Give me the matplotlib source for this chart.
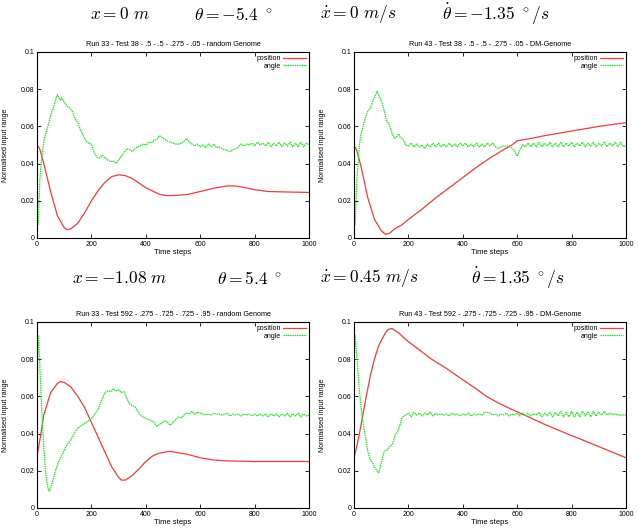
import matplotlib
matplotlib.use("Agg")
import matplotlib.pyplot as plt
from matplotlib.ticker import FixedLocator, FixedFormatter

plt.rcParams["mathtext.fontset"] = "cm"
plt.rcParams["font.family"] = ["Liberation Sans", "DejaVu Sans"]

RED = "#f03c3c"
GREEN = "#22e622"

# ---- Run 33 - Test 38 (random Genome) ----
pos1_x = [0, 10, 25, 50, 75, 100, 110, 125, 150, 175,
          200, 225, 250, 275, 300, 325, 350, 400, 450, 475,
          500, 550, 600, 650, 700, 725, 750, 800, 850, 900,
          1000]
pos1_y = [0.050, 0.048, 0.040, 0.025, 0.012, 0.0055, 0.0045, 0.005, 0.008, 0.0135,
          0.020, 0.0255, 0.030, 0.033, 0.034, 0.0335, 0.032, 0.027, 0.0235, 0.0228,
          0.0228, 0.0233, 0.025, 0.0268, 0.028, 0.028, 0.0275, 0.026, 0.025, 0.0248,
          0.0245]
ang1_x = [0, 3, 6, 10, 15, 20, 25, 30, 40, 50,
          60, 70, 75, 80, 85, 90, 100, 110, 120, 130,
          140, 150, 160, 170, 180, 190, 200, 210, 220, 230,
          240, 250, 260, 270, 280, 290, 300, 310, 320, 330,
          340, 350, 360, 370, 380, 390, 400, 410, 420, 430,
          440, 450, 460, 470, 480, 490, 500, 510, 520, 530,
          540, 550, 560, 570, 580, 590, 600, 610, 620, 630,
          640, 650, 660, 670, 680, 690, 700, 710, 720, 730,
          740, 750, 760, 770, 780, 790, 800, 810, 820, 830,
          840, 850, 860, 870, 880, 890, 900, 910, 920, 930,
          940, 950, 960, 970, 980, 990, 1000]
ang1_y = [0.016, 0.007, 0.012, 0.030, 0.040, 0.046, 0.052, 0.055, 0.060, 0.066,
          0.070, 0.075, 0.077, 0.0755, 0.074, 0.0755, 0.073, 0.071, 0.070, 0.068,
          0.064, 0.062, 0.058, 0.055, 0.052, 0.051, 0.0505, 0.046, 0.0435, 0.043,
          0.0445, 0.043, 0.042, 0.041, 0.0415, 0.040, 0.042, 0.044, 0.046, 0.048,
          0.0475, 0.0465, 0.048, 0.049, 0.0495, 0.0505, 0.050, 0.0515, 0.051, 0.0525,
          0.053, 0.055, 0.054, 0.053, 0.052, 0.0515, 0.051, 0.0505, 0.0505, 0.051,
          0.052, 0.0535, 0.0515, 0.0505, 0.0495, 0.0505, 0.049, 0.050, 0.0485, 0.0505,
          0.049, 0.0505, 0.0485, 0.049, 0.048, 0.0475, 0.047, 0.0465, 0.0475, 0.048,
          0.049, 0.0505, 0.0495, 0.0505, 0.050, 0.051, 0.0495, 0.0515, 0.050, 0.051,
          0.0495, 0.0515, 0.049, 0.051, 0.0495, 0.0515, 0.049, 0.051, 0.0495, 0.0515,
          0.049, 0.051, 0.049, 0.0515, 0.049, 0.051, 0.050]

# ---- Run 43 - Test 38 (DM-Genome) ----
pos2_x = [0, 10, 25, 50, 75, 100, 115, 130, 150, 175,
          200, 250, 300, 350, 400, 450, 500, 550, 580, 600,
          650, 700, 800, 900, 1000]
pos2_y = [0.050, 0.047, 0.039, 0.022, 0.010, 0.004, 0.002, 0.0025, 0.005, 0.007,
          0.010, 0.0155, 0.0215, 0.027, 0.0325, 0.038, 0.043, 0.0475, 0.050, 0.0523,
          0.0535, 0.055, 0.0575, 0.060, 0.062]
ang2_x = [0, 3, 6, 10, 15, 20, 25, 30, 40, 50,
          60, 70, 80, 85, 90, 100, 110, 120, 130, 140,
          150, 160, 165, 170, 180, 190, 200, 210, 220, 230,
          240, 250, 260, 270, 280, 290, 300, 310, 320, 330,
          340, 350, 360, 370, 380, 390, 400, 410, 420, 430,
          440, 450, 460, 470, 480, 490, 500, 510, 520, 530,
          540, 550, 560, 570, 580, 590, 600, 610, 620, 630,
          640, 650, 660, 670, 680, 690, 700, 710, 720, 730,
          740, 750, 760, 770, 780, 790, 800, 810, 820, 830,
          840, 850, 860, 870, 880, 890, 900, 910, 920, 930,
          940, 950, 960, 970, 980, 990, 1000]
ang2_y = [0.028, 0.007, 0.015, 0.030, 0.040, 0.050, 0.055, 0.058, 0.064, 0.068,
          0.070, 0.074, 0.077, 0.079, 0.077, 0.074, 0.069, 0.063, 0.061, 0.056,
          0.0535, 0.055, 0.056, 0.054, 0.053, 0.050, 0.0495, 0.051, 0.049, 0.0505,
          0.049, 0.050, 0.048, 0.0505, 0.049, 0.051, 0.049, 0.051, 0.049, 0.0505,
          0.049, 0.051, 0.049, 0.0505, 0.049, 0.051, 0.0495, 0.051, 0.049, 0.0505,
          0.049, 0.051, 0.049, 0.0505, 0.049, 0.051, 0.0495, 0.051, 0.049, 0.048,
          0.049, 0.0495, 0.0495, 0.049, 0.0485, 0.047, 0.044, 0.0475, 0.050, 0.049,
          0.051, 0.049, 0.051, 0.049, 0.0515, 0.049, 0.051, 0.0495, 0.0515, 0.049,
          0.051, 0.049, 0.0515, 0.049, 0.051, 0.0495, 0.0515, 0.049, 0.051, 0.0495,
          0.0515, 0.049, 0.051, 0.0495, 0.0515, 0.049, 0.051, 0.0495, 0.0515, 0.049,
          0.051, 0.0495, 0.0515, 0.049, 0.0515, 0.049, 0.050]

# ---- Run 33 - Test 592 (random Genome) ----
pos3_x = [0, 10, 25, 50, 75, 85, 100, 125, 150, 175,
          200, 225, 250, 275, 300, 310, 325, 350, 375, 400,
          425, 450, 490, 525, 550, 600, 650, 700, 800, 1000]
pos3_y = [0.028, 0.036, 0.050, 0.062, 0.067, 0.068, 0.0675, 0.065, 0.060, 0.054,
          0.046, 0.038, 0.030, 0.022, 0.0165, 0.015, 0.015, 0.0175, 0.021, 0.025,
          0.028, 0.0295, 0.0305, 0.0295, 0.029, 0.027, 0.0258, 0.0253, 0.025, 0.025]
ang3_x = [0, 3, 6, 10, 15, 20, 25, 30, 35, 40,
          45, 50, 55, 60, 70, 80, 90, 100, 110, 120,
          130, 140, 150, 160, 170, 180, 190, 200, 210, 220,
          230, 240, 250, 260, 270, 280, 290, 300, 310, 320,
          330, 340, 350, 360, 370, 380, 390, 400, 410, 420,
          430, 440, 450, 460, 470, 480, 490, 500, 510, 520,
          530, 540, 550, 560, 570, 580, 590, 600, 610, 620,
          630, 640, 650, 660, 670, 680, 690, 700, 710, 720,
          730, 740, 750, 760, 770, 780, 790, 800, 810, 820,
          830, 840, 850, 860, 870, 880, 890, 900, 910, 920,
          930, 940, 950, 960, 970, 980, 990, 1000]
ang3_y = [0.040, 0.093, 0.090, 0.078, 0.060, 0.045, 0.033, 0.022, 0.015, 0.011,
          0.009, 0.0105, 0.013, 0.016, 0.021, 0.025, 0.028, 0.031, 0.034, 0.036,
          0.038, 0.041, 0.043, 0.044, 0.045, 0.046, 0.047, 0.048, 0.050, 0.052,
          0.055, 0.059, 0.062, 0.063, 0.0625, 0.064, 0.063, 0.0635, 0.062, 0.0625,
          0.059, 0.056, 0.055, 0.0545, 0.052, 0.050, 0.049, 0.048, 0.0475, 0.047,
          0.046, 0.044, 0.045, 0.046, 0.047, 0.046, 0.0445, 0.046, 0.0475, 0.049,
          0.0485, 0.050, 0.051, 0.0505, 0.052, 0.0505, 0.0515, 0.051, 0.0505, 0.050,
          0.0505, 0.050, 0.051, 0.0505, 0.0505, 0.050, 0.0505, 0.051, 0.0495, 0.0505,
          0.050, 0.0505, 0.0495, 0.0505, 0.050, 0.0505, 0.0495, 0.0505, 0.0495, 0.0505,
          0.0495, 0.0505, 0.049, 0.0505, 0.0495, 0.0505, 0.049, 0.0505, 0.0495, 0.051,
          0.049, 0.0505, 0.0495, 0.051, 0.049, 0.0505, 0.0495, 0.050]

# ---- Run 43 - Test 592 (DM-Genome) ----
pos4_x = [0, 10, 20, 30, 45, 60, 75, 90, 100, 115,
          125, 140, 165, 195, 240, 285, 340, 389, 440, 487,
          530, 580, 634, 700, 782, 850, 900, 1000]
pos4_y = [0.027, 0.033, 0.040, 0.048, 0.060, 0.071, 0.080, 0.087, 0.090, 0.094,
          0.096, 0.0965, 0.094, 0.090, 0.085, 0.080, 0.075, 0.070, 0.065, 0.060,
          0.0565, 0.053, 0.0495, 0.045, 0.040, 0.036, 0.033, 0.027]
ang4_x = [0, 3, 6, 10, 15, 20, 25, 30, 35, 40,
          45, 50, 55, 60, 65, 70, 75, 80, 85, 90,
          95, 100, 105, 110, 115, 120, 130, 140, 145, 150,
          155, 160, 165, 170, 175, 180, 190, 200, 210, 220,
          230, 240, 250, 260, 270, 280, 290, 300, 310, 320,
          330, 340, 350, 360, 370, 380, 390, 400, 410, 420,
          430, 440, 450, 460, 470, 480, 490, 500, 510, 520,
          530, 540, 550, 560, 570, 580, 590, 600, 610, 620,
          630, 640, 650, 660, 670, 680, 690, 700, 710, 720,
          730, 740, 750, 760, 770, 780, 790, 800, 810, 820,
          830, 840, 850, 860, 870, 880, 890, 900, 910, 920,
          930, 940, 950, 960, 970, 980, 990, 1000]
ang4_y = [0.072, 0.093, 0.090, 0.082, 0.072, 0.063, 0.055, 0.049, 0.044, 0.040,
          0.036, 0.031, 0.028, 0.026, 0.025, 0.024, 0.022, 0.021, 0.020, 0.019,
          0.021, 0.024, 0.027, 0.030, 0.031, 0.031, 0.033, 0.034, 0.036, 0.039,
          0.040, 0.041, 0.043, 0.045, 0.048, 0.049, 0.050, 0.051, 0.049, 0.0515,
          0.050, 0.051, 0.0495, 0.051, 0.050, 0.0515, 0.0495, 0.051, 0.050, 0.0505,
          0.050, 0.0505, 0.0495, 0.051, 0.050, 0.0505, 0.0495, 0.0505, 0.050, 0.051,
          0.0495, 0.0505, 0.050, 0.0505, 0.050, 0.0515, 0.0515, 0.051, 0.050, 0.0505,
          0.0495, 0.0505, 0.050, 0.051, 0.0495, 0.0505, 0.050, 0.051, 0.0495, 0.051,
          0.0495, 0.051, 0.0495, 0.0505, 0.050, 0.0515, 0.049, 0.051, 0.0495, 0.0515,
          0.049, 0.0515, 0.0495, 0.052, 0.049, 0.0515, 0.049, 0.052, 0.049, 0.0515,
          0.049, 0.052, 0.0495, 0.0515, 0.049, 0.052, 0.0495, 0.0515, 0.050, 0.052,
          0.050, 0.051, 0.0505, 0.0505, 0.050, 0.050, 0.050, 0.050]

titles = ["Run 33 - Test 38 - .5 - .5 - .275 - .05 - random Genome",
          "Run 43 - Test 38 - .5 - .5 - .275 - .05 - DM-Genome",
          "Run 33 - Test 592 - .275 - .725 - .725 - .95 - random Genome",
          "Run 43 - Test 592 - .275 - .725 - .725 - .95 - DM-Genome"]
series = [(pos1_x, pos1_y, ang1_x, ang1_y),
          (pos2_x, pos2_y, ang2_x, ang2_y),
          (pos3_x, pos3_y, ang3_x, ang3_y),
          (pos4_x, pos4_y, ang4_x, ang4_y)]

y_ticks = [0, 0.02, 0.04, 0.06, 0.08, 0.1]
y_labels = ["0", "0.02", "0.04", "0.06", "0.08", "0.1"]
x_ticks = [0, 200, 400, 600, 800, 1000]
x_labels = ["0", "200", "400", "600", "800", "1000"]

header1 = [r"$x = 0\ m$", r"$\theta = -5.4\ ^\circ$",
           r"$\dot{x} = 0\ m/s$", r"$\dot{\theta} = -1.35\ ^\circ/s$"]
header2 = [r"$x = -1.08\ m$", r"$\theta = 5.4\ ^\circ$",
           r"$\dot{x} = 0.45\ m/s$", r"$\dot{\theta} = 1.35\ ^\circ/s$"]

W, H = 638, 531
fig = plt.figure(figsize=(W / 100, H / 100), dpi=100)

# axes boxes in pixels: left, top, right, bottom
boxes = [(37, 52, 309, 238), (354, 52, 626, 238),
         (37, 322, 309, 508), (354, 322, 626, 508)]

for (l, t, r, b), title, (px, py, ax_, ay) in zip(boxes, titles, series):
    ax = fig.add_axes([l / W, 1 - b / H, (r - l) / W, (b - t) / H])
    ax.plot(px, py, color=RED, lw=0.9, label="position")
    ax.plot(ax_, ay, color=GREEN, lw=0.9, ls=(0, (1.2, 0.6)), label="angle")
    ax.set_xlim(0, 1000)
    ax.set_ylim(0, 0.1)
    ax.xaxis.set_major_locator(FixedLocator(x_ticks))
    ax.xaxis.set_major_formatter(FixedFormatter(x_labels))
    ax.yaxis.set_major_locator(FixedLocator(y_ticks))
    ax.yaxis.set_major_formatter(FixedFormatter(y_labels))
    ax.tick_params(direction="in", top=True, right=True, length=3, width=0.6,
                   labelsize=5, pad=2)
    for s in ax.spines.values():
        s.set_linewidth(0.8)
    ax.set_title(title, fontsize=5.2, pad=4)
    ax.set_xlabel("Time steps", fontsize=5.5, labelpad=1)
    ax.set_ylabel("Normalised input range", fontsize=5, labelpad=8)
    ax.legend(loc="upper right", markerfirst=False, frameon=False, fontsize=5,
              handlelength=3.2, handletextpad=0.4, labelspacing=0.05,
              borderaxespad=0.3, borderpad=0.2)

for txt, x in zip(header1, [90, 194, 320, 442]):
    fig.text(x / W, 1 - 14 / H, txt, fontsize=12.5, ha="left", va="center")
for txt, x in zip(header2, [72, 217, 320, 471]):
    fig.text(x / W, 1 - 278 / H, txt, fontsize=12.5, ha="left", va="center")

fig.savefig("out.png", dpi=100)
